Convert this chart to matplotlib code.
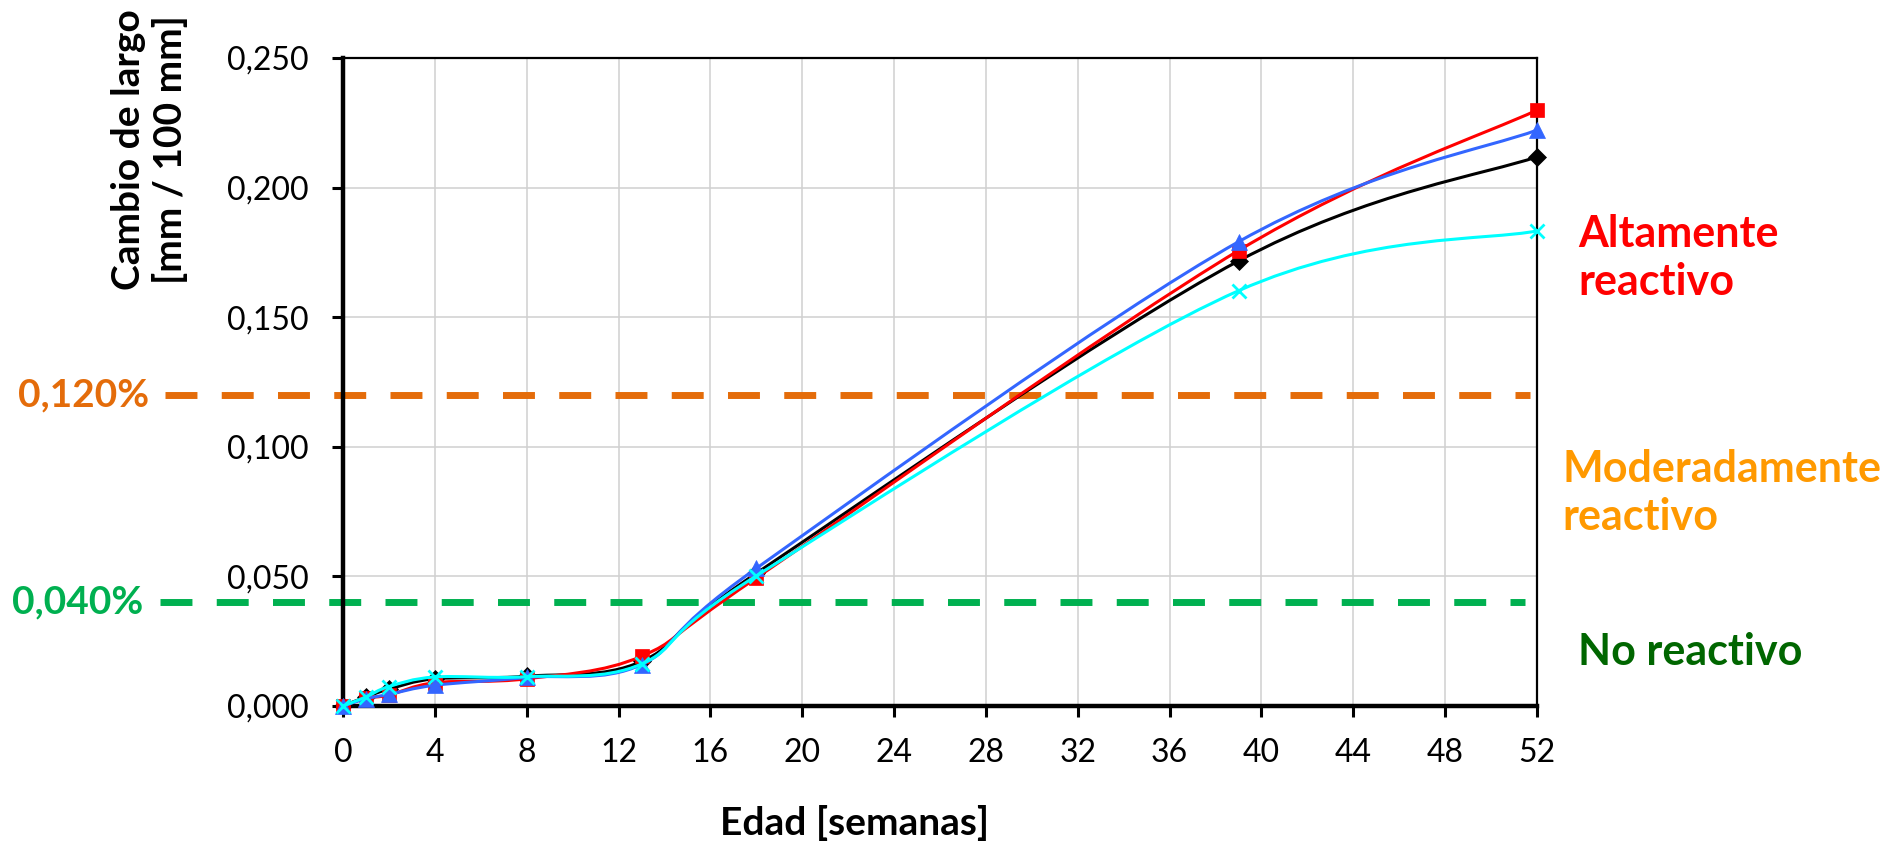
import matplotlib
matplotlib.use("Agg")
import matplotlib.pyplot as plt
from matplotlib.path import Path
from matplotlib.patches import PathPatch
from matplotlib.transforms import blended_transform_factory
import numpy as np

plt.rcParams['font.family'] = ['Lato', 'DejaVu Sans']

# ---------------- data ----------------
weeks = [0, 1, 2, 4, 8, 13, 18, 39, 52]
serie_negra = [0.000, 0.0035, 0.0065, 0.0105, 0.0115, 0.0172, 0.0512, 0.1717, 0.2119]
serie_roja = [0.000, 0.0030, 0.0042, 0.0090, 0.0105, 0.0192, 0.0494, 0.1757, 0.2299]
serie_azul = [0.000, 0.0028, 0.0045, 0.0080, 0.0110, 0.0160, 0.0531, 0.1791, 0.2222]
serie_cian = [0.000, 0.0035, 0.0075, 0.0112, 0.0113, 0.0162, 0.0502, 0.1602, 0.1833]

limite_alto = 0.120
limite_bajo = 0.040
limite_alto_label = "0,120%"
limite_bajo_label = "0,040%"

x_ticks = list(range(0, 53, 4))
y_ticks = [0.0, 0.05, 0.10, 0.15, 0.20, 0.25]

W, H = 1899, 843
fig = plt.figure(figsize=(W / 100, H / 100), dpi=100)
ax = fig.add_axes([343 / W, 1 - 706 / H, 1194 / W, 648 / H])


def smooth_path(xs, ys):
    """Excel-like smoothed line as cubic Bezier segments (Catmull-Rom)."""
    pts = np.column_stack([xs, ys]).astype(float)
    n = len(pts)
    verts = [pts[0]]
    codes = [Path.MOVETO]
    for i in range(n - 1):
        p0 = pts[i - 1] if i > 0 else pts[i]
        p1 = pts[i]
        p2 = pts[i + 1]
        p3 = pts[i + 2] if i + 2 < n else pts[i + 1]
        c1 = p1 + (p2 - p0) / 6.0
        c2 = p2 - (p3 - p1) / 6.0
        verts += [c1, c2, p2]
        codes += [Path.CURVE4] * 3
    return Path(verts, codes)


series = [
    (serie_negra, '#000000', 'D', 9, 3),
    (serie_roja, '#FF0000', 's', 10.5, 4),
    (serie_azul, '#3366FF', '^', 11.5, 5),
    (serie_cian, '#00FFFF', 'x', 10, 6),
]

for ys, col, mk, ms, z in series:
    patch = PathPatch(smooth_path(weeks, ys), facecolor='none', edgecolor=col,
                      lw=2.2, transform=ax.transData, zorder=z, clip_on=False)
    ax.add_patch(patch)
    ax.plot(weeks, ys, linestyle='none', marker=mk, color=col, ms=ms,
            mew=2 if mk == 'x' else 0.5, zorder=z + 0.5, clip_on=False)

# threshold dashed lines (extend left of axes)
btr = blended_transform_factory(ax.transAxes, ax.transData)
ax.plot([-0.149, 0.994], [limite_alto, limite_alto], transform=btr, color='#E46C0A',
        lw=5, dashes=(4.6, 3.5), solid_capstyle='butt', dash_capstyle='butt',
        clip_on=False, zorder=2)
ax.plot([-0.153, 0.99], [limite_bajo, limite_bajo], transform=btr, color='#00B050',
        lw=5, dashes=(4.6, 3.5), solid_capstyle='butt', dash_capstyle='butt',
        clip_on=False, zorder=2)
ax.text(-0.1625, limite_alto, limite_alto_label, transform=btr, ha='right', va='center',
        color='#E46C0A', fontsize=28, fontweight='bold')
ax.text(-0.1675, limite_bajo, limite_bajo_label, transform=btr, ha='right', va='center',
        color='#00B050', fontsize=28, fontweight='bold')

# axes formatting
ax.set_xlim(0, 52)
ax.set_ylim(0, 0.25)
ax.set_xticks(x_ticks)
ax.set_xticklabels([str(v) for v in x_ticks])
ax.set_yticks(y_ticks)
ax.set_yticklabels([f"{v:.3f}".replace('.', ',') for v in y_ticks])
ax.grid(True, color='#D0D0D0', lw=1.1, zorder=0)
ax.set_axisbelow(True)
for side in ['left', 'bottom']:
    ax.spines[side].set_linewidth(3.2)
for side in ['top', 'right']:
    ax.spines[side].set_linewidth(1.6)
ax.tick_params(axis='y', direction='out', length=8, width=2.2, labelsize=23, pad=17)
ax.tick_params(axis='x', direction='out', length=8, width=2.2, labelsize=23, pad=15)

fig.text(855 / W, 1 - 823 / H, "Edad [semanas]", ha='center', va='center',
         fontsize=28, fontweight='bold')
fig.text(149 / W, 1 - 150 / H, "Cambio de largo\n[mm / 100 mm]", rotation=90,
         ha='center', va='center', multialignment='center', fontsize=28,
         fontweight='bold', linespacing=1.2)

# reactivity labels on the right
fig.text(1578 / W, 1 - 258 / H, "Altamente\nreactivo", ha='left', va='center',
         color='#FF0000', fontsize=31, fontweight='bold', linespacing=1.25)
fig.text(1562 / W, 1 - 493 / H, "Moderadamente\nreactivo", ha='left', va='center',
         color='#FF9900', fontsize=31, fontweight='bold', linespacing=1.25)
fig.text(1578 / W, 1 - 652 / H, "No reactivo", ha='left', va='center',
         color='#006600', fontsize=31, fontweight='bold')

fig.savefig("out.png", dpi=100)
